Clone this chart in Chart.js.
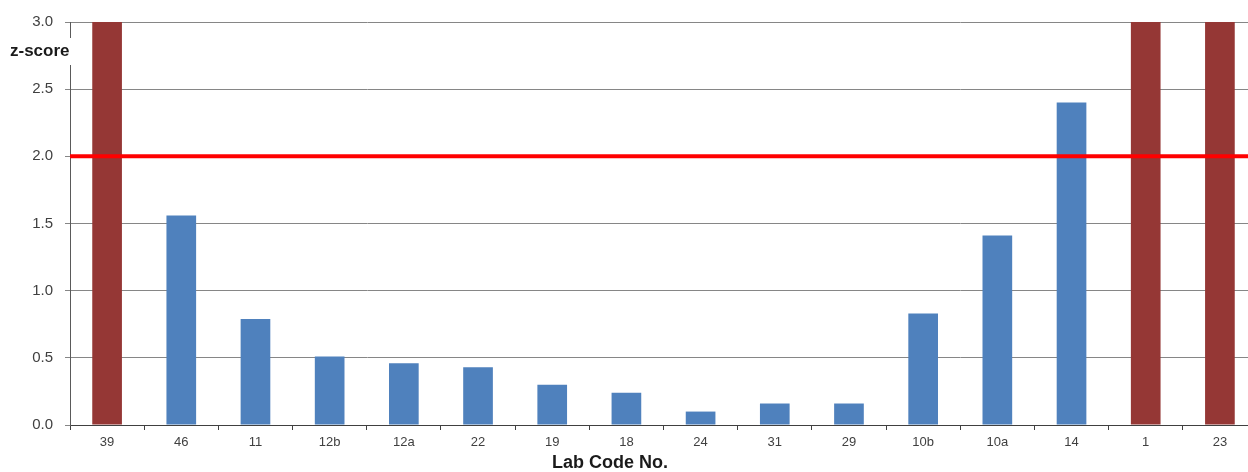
<!DOCTYPE html>
<html>
<head>
<meta charset="utf-8">
<style>
  html, body { margin: 0; padding: 0; background: #ffffff; overflow: hidden; }
  #wrap { position: relative; width: 1257px; height: 472px; }
</style>
<script src="https://cdn.jsdelivr.net/npm/chart.js@4/dist/chart.umd.min.js"></script>
</head>
<body>
<div id="wrap"><canvas id="chart" width="1257" height="472"></canvas></div>
<script>
// Laboratory codes along the x axis
const labCodes = ['39', '46', '11', '12b', '12a', '22', '19', '18', '24', '31', '29', '10b', '10a', '14', '1', '23'];
// |z-score| per laboratory (labs above 3 run off the top of the scale)
const zScores = [3.6, 1.56, 0.79, 0.51, 0.46, 0.43, 0.30, 0.24, 0.10, 0.16, 0.16, 0.83, 1.41, 2.40, 3.6, 3.6];
// Acceptance limit
const zLimit = 2.0;
// Y axis ticks
const yTicks = [0, 0.5, 1.0, 1.5, 2.0, 2.5, 3.0];

const okColor = '#4f81bd';
const outColor = '#953735';
// bars beyond the plotted range are flagged in dark red
const barColors = zScores.map(v => (v > 3 ? outColor : okColor));

const limitLine = {
  id: 'limitLine',
  afterDatasetsDraw(chart) {
    const { ctx, chartArea, scales } = chart;
    const y = scales.y.getPixelForValue(zLimit);
    ctx.save();
    ctx.strokeStyle = '#ff0000';
    ctx.lineWidth = 4;
    ctx.beginPath();
    ctx.moveTo(chartArea.left, y);
    ctx.lineTo(chartArea.right, y);
    ctx.stroke();
    ctx.restore();
  }
};

const axisTitles = {
  id: 'axisTitles',
  afterDraw(chart) {
    const { ctx } = chart;
    ctx.save();
    // y title sits on a white label box over the axis line
    ctx.fillStyle = '#ffffff';
    ctx.fillRect(5, 38, 68, 27);
    ctx.font = 'bold 17px "Liberation Sans", Arial, sans-serif';
    ctx.fillStyle = '#1a1a1a';
    ctx.textBaseline = 'middle';
    ctx.textAlign = 'left';
    ctx.fillText('z-score', 10, 51);
    ctx.font = 'bold 18px "Liberation Sans", Arial, sans-serif';
    ctx.textAlign = 'center';
    ctx.fillText('Lab Code No.', 610, 463);
    ctx.restore();
  }
};

new Chart(document.getElementById('chart'), {
  type: 'bar',
  data: {
    labels: labCodes,
    datasets: [{
      data: zScores,
      backgroundColor: barColors,
      borderWidth: 0,
      categoryPercentage: 1.0,
      barPercentage: 0.4
    }]
  },
  options: {
    responsive: false,
    animation: false,
    devicePixelRatio: 1,
    layout: { padding: { top: 22, right: 0, left: 0, bottom: 0 } },
    plugins: { legend: { display: false }, tooltip: { enabled: false } },
    scales: {
      x: {
        offset: true,
        grid: { drawOnChartArea: false, drawTicks: true, tickLength: 5, color: '#404040', offset: true },
        border: { display: true, color: '#404040', width: 1 },
        ticks: { color: '#404040', font: { size: 13, family: '"Liberation Sans", Arial, sans-serif' }, padding: 5, maxRotation: 0, autoSkip: false },
        afterFit(scale) { scale.height = 47; }
      },
      y: {
        min: 0,
        max: 3,
        afterBuildTicks(scale) { scale.ticks = yTicks.map(v => ({ value: v })); },
        grid: { color: '#868686', lineWidth: 1, drawTicks: true, tickLength: 5 },
        border: { display: true, color: '#5a5a5a', width: 1 },
        ticks: {
          color: '#404040',
          font: { size: 15, family: '"Liberation Sans", Arial, sans-serif' },
          padding: 12,
          callback: v => Number(v).toFixed(1)
        },
        afterFit(scale) { scale.width = 70; }
      }
    }
  },
  plugins: [limitLine, axisTitles]
});
</script>
</body>
</html>
